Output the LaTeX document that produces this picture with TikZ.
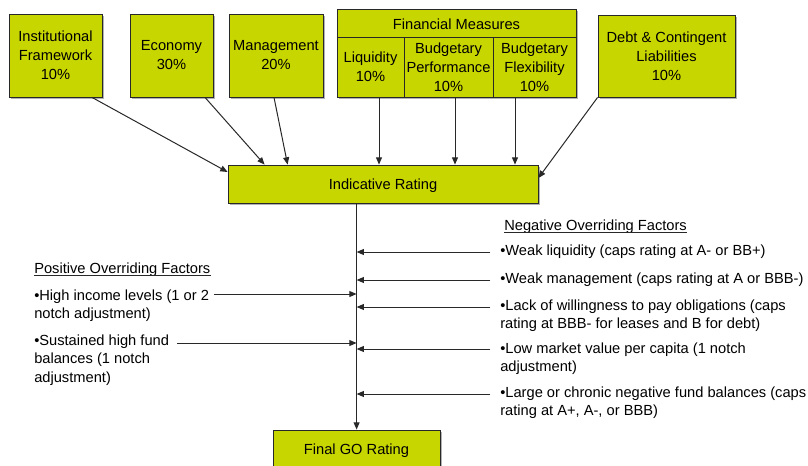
\documentclass[tikz,border=0pt]{standalone}
\usepackage{fontspec}
\setmainfont{Liberation Sans}
\usetikzlibrary{arrows.meta,calc,shadows}
\definecolor{boxfill}{RGB}{200,214,0}
\definecolor{edge}{RGB}{40,40,40}
\begin{document}
\begin{tikzpicture}[x=0.75pt,y=-0.75pt,
  box/.style={draw=edge, line width=0.6pt, fill=boxfill, align=center, inner sep=0pt,
    font=\fontsize{11}{14.25}\selectfont,
    execute at begin node={\rule{0pt}{10.5pt}},
    drop shadow={shadow xshift=1.2pt, shadow yshift=-1.2pt, fill=black!30, opacity=1}},
  note/.style={align=left, inner sep=0pt, anchor=west, font=\fontsize{11}{13.8}\selectfont},
  arr/.style={draw=edge, line width=0.75pt, -{Triangle[length=5.5pt,width=4.5pt]}},
  uline/.style={draw=edge, line width=0.5pt},
]
\useasboundingbox (0,0) rectangle (808,465);
\clip (0,0) rectangle (808,465);

% rating components
\node[box, minimum width=69.75pt, minimum height=62.25pt] (inst) at (55.5,55.5) {Institutional\\Framework\\10\%};
\node[box, minimum width=62.25pt, minimum height=62.25pt] (econ) at (171.5,55.5) {Economy\\30\%};
\node[box, minimum width=70.5pt, minimum height=62.25pt] (mgmt) at (276,55.5) {Management\\20\%};
\node[box, minimum width=179.25pt, minimum height=21pt] (fin) at (456.5,23) {Financial Measures};
\node[box, minimum width=50.25pt, minimum height=45pt] (liq) at (370.5,67) {Liquidity\\10\%};
\node[box, minimum width=66.75pt, minimum height=45pt] (bperf) at (448.5,67) {Budgetary\\Performance\\10\%};
\node[box, minimum width=62.25pt, minimum height=45pt] (bflex) at (534.5,67) {Budgetary\\Flexibility\\10\%};
\node[box, minimum width=102.75pt, minimum height=61.5pt] (debt) at (666.5,56) {Debt \& Contingent\\Liabilities\\10\%};

% ratings
\node[box, minimum width=232.5pt, minimum height=28.5pt] (ind) at (383,184) {Indicative Rating};
\node[box, minimum width=125.25pt, minimum height=28.5pt] (final) at (356.5,449) {Final GO Rating};

% components feeding the indicative rating
\draw[arr] ($(inst.south)+(36.5,0)$) -- ($(ind.west)+(0,-12)$);
\draw[arr] ($(econ.south)+(33.5,0)$) -- ($(ind.north west)+(37,0)$);
\draw[arr] ($(mgmt.south)+(-2,0)$) -- ($(ind.north west)+(60,0)$);
\coordinate (liqout) at ($(liq.south)+(8.5,0)$);
\coordinate (bperfout) at ($(bperf.south)+(6.5,0)$);
\coordinate (bflexout) at ($(bflex.south)+(-19.5,0)$);
\draw[arr] (liqout) -- (liqout |- ind.north);
\draw[arr] (bperfout) -- (bperfout |- ind.north);
\draw[arr] (bflexout) -- (bflexout |- ind.north);
\draw[arr] (debt.south west) -- ($(ind.east)+(0,-6)$);

% main trunk
\coordinate (trunk) at ($(ind.south west)+(129,0)$);
\draw[arr] (trunk) -- (trunk |- final.north);

% positive overriding factors
\node[note] (postitle) at (34,270) {Positive Overriding Factors};
\draw[uline] ($(postitle.base west)+(0,1.8)$) -- ($(postitle.base east)+(0,1.8)$);
\node[note] (p1) at (34,306) {•High income levels (1 or 2\\notch adjustment)};
\node[note] (p2) at (34,360) {•Sustained high fund\\balances (1 notch\\adjustment)};
\coordinate (p1s) at (214,294);
\coordinate (p2s) at (177,343);
\draw[arr] (p1s) -- (p1s -| trunk);
\draw[arr] (p2s) -- (p2s -| trunk);

% negative overriding factors
\node[note] (negtitle) at (504,227) {Negative Overriding Factors};
\draw[uline] ($(negtitle.base west)+(0,1.8)$) -- ($(negtitle.base east)+(0,1.8)$);
\node[note] (n1) at (500,252) {•Weak liquidity (caps rating at A- or BB+)};
\node[note] (n2) at (500,280) {•Weak management (caps rating at A or BBB-)};
\node[note] (n3) at (500,315.5) {•Lack of willingness to pay obligations (caps\\rating at BBB- for leases and B for debt)};
\node[note] (n4) at (500,359) {•Low market value per capita (1 notch\\adjustment)};
\node[note] (n5) at (500,403) {•Large or chronic negative fund balances (caps\\rating at A+, A-, or BBB)};
\coordinate (n1s) at (490,252);
\coordinate (n2s) at (490,280);
\coordinate (n3s) at (490,307);
\coordinate (n4s) at (490,349);
\coordinate (n5s) at (490,394);
\foreach \s in {n1s,n2s,n3s,n4s,n5s}
  \draw[arr] (\s) -- (\s -| trunk);
\end{tikzpicture}
\end{document}
